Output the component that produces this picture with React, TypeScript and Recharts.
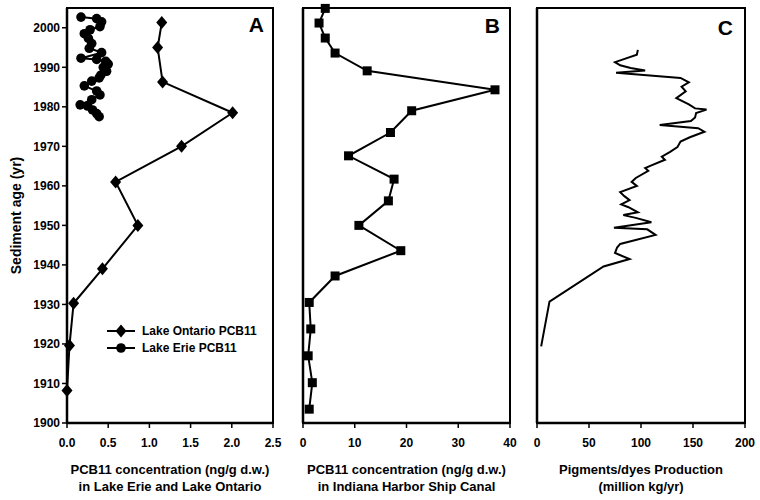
import React from 'react';
import { ScatterChart, Scatter, XAxis, YAxis, ReferenceArea, Legend } from 'recharts';

const FONT = '"Liberation Sans", Arial, Helvetica, sans-serif';

const yearTicks = [1900, 1910, 1920, 1930, 1940, 1950, 1960, 1970, 1980, 1990, 2000];
const ticksA = [0, 0.5, 1, 1.5, 2, 2.5];
const ticksB = [0, 10, 20, 30, 40];
const ticksC = [0, 50, 100, 150, 200];

// Panel A - Lake Ontario PCB11 (ng/g d.w.)
const ontarioYear = [2001.3, 1995.0, 1986.3, 1978.5, 1970.0, 1961.0, 1950.0, 1939.0, 1930.3, 1919.6, 1908.2];
const ontarioConc = [1.15, 1.1, 1.16, 2.01, 1.39, 0.59, 0.86, 0.43, 0.08, 0.03, 0.0];

// Panel A - Lake Erie PCB11
const erieYear = [2002.7, 2002.3, 2001.5, 2000.3, 1999.5, 1998.5, 1997.3, 1996.0, 1994.8, 1993.7, 1992.3, 1992.0, 1991.5, 1990.8, 1990.0, 1989.0, 1988.0, 1987.3, 1986.5, 1985.3, 1984.0, 1983.0, 1981.8, 1980.5, 1980.2, 1979.2, 1978.3, 1977.5];
const erieConc = [0.17, 0.36, 0.42, 0.4, 0.28, 0.21, 0.26, 0.3, 0.27, 0.42, 0.17, 0.36, 0.47, 0.5, 0.44, 0.48, 0.41, 0.39, 0.3, 0.21, 0.36, 0.4, 0.3, 0.16, 0.25, 0.31, 0.36, 0.39];

// Panel B - Indiana Harbor Ship Canal
const canalYear = [2004.9, 2001.2, 1997.4, 1993.6, 1989.1, 1984.3, 1979.0, 1973.5, 1967.6, 1961.7, 1956.2, 1950.0, 1943.6, 1937.2, 1930.5, 1923.8, 1917.0, 1910.2, 1903.5];
const canalConc = [4.3, 3.1, 4.3, 6.2, 12.4, 37.1, 21.0, 16.9, 8.8, 17.6, 16.5, 10.8, 18.9, 6.2, 1.2, 1.5, 1.0, 1.8, 1.2];

// Panel C - pigments/dyes production (million kg/yr)
const dyeYear = [1994.4, 1993.2, 1991.3, 1990.5, 1989.8, 1989.2, 1988.6, 1987.3, 1986.2, 1985.1, 1983.9, 1982.2, 1980.6, 1979.6, 1979.3, 1978.4, 1977.3, 1976.4, 1975.4, 1974.6, 1973.7, 1972.3, 1971.2, 1969.8, 1968.6, 1967.4, 1966.6, 1965.2, 1964.5, 1963.8, 1962.0, 1961.0, 1960.0, 1958.4, 1957.4, 1956.4, 1955.3, 1954.6, 1953.3, 1952.6, 1951.9, 1950.8, 1949.4, 1949.0, 1947.6, 1945.3, 1944.4, 1943.0, 1941.5, 1939.6, 1930.7, 1919.4];
const dyeProd = [97, 96, 75, 80, 90, 104, 76, 138, 146, 139, 143, 134, 146, 152, 163, 153, 152, 148, 118, 155, 161, 147, 138, 135, 128, 120, 123, 110, 104, 107, 95, 91, 96, 80, 84, 89, 81, 88, 97, 83, 95, 110, 74, 106, 114, 80, 77, 75, 89, 64, 12, 4];

const legendOrder = ['Lake Ontario PCB11', 'Lake Erie PCB11'];

const zip = (ys: number[], xs: number[]) => ys.map((y, i) => ({ y, x: xs[i] }));

const ontario = zip(ontarioYear, ontarioConc);
const erie = zip(erieYear, erieConc);
const canal = zip(canalYear, canalConc);
const dyes = zip(dyeYear, dyeProd);

const Marker = ({ cx, cy, kind }: any) => {
  if (cx == null || cy == null) return <g />;
  if (kind === 'diamond')
    return <path d={`M${cx},${cy - 6.5}L${cx + 5.5},${cy}L${cx},${cy + 6.5}L${cx - 5.5},${cy}Z`} fill="#000" />;
  if (kind === 'circle') return <circle cx={cx} cy={cy} r={4.8} fill="#000" />;
  if (kind === 'square') return <rect x={cx - 4.5} y={cy - 4.5} width={9} height={9} fill="#000" />;
  return <g />;
};

const LegendContent = ({ payload }: any) => {
  const items = [...(payload || [])].sort(
    (a: any, b: any) => legendOrder.indexOf(a.value) - legendOrder.indexOf(b.value)
  );
  return (
    <div style={{ fontFamily: FONT, fontSize: 12, fontWeight: 'bold', color: '#000' }}>
      {items.map((entry: any) => (
        <div key={entry.value} style={{ display: 'flex', alignItems: 'center', height: 17.5 }}>
          <svg width={32} height={14}>
            <line x1={2} x2={30} y1={7} y2={7} stroke="#000" strokeWidth={2} />
            <Marker cx={16} cy={7} kind={entry.type} />
          </svg>
          <span style={{ marginLeft: 5 }}>{entry.value}</span>
        </div>
      ))}
    </div>
  );
};

const tickStyle = { fill: '#000', fontSize: 12, fontWeight: 'bold', fontFamily: FONT };
const axisLine = { stroke: '#000', strokeWidth: 2.5 };
const tickLine = { stroke: '#000', strokeWidth: 1.5 };
const letterStyle = { fontSize: 21, fontWeight: 'bold', fill: '#000', fontFamily: FONT };
const lineStyle = { stroke: '#000', strokeWidth: 2 };

const W = 760;
const H = 453;
const chartBox: React.CSSProperties = { position: 'absolute', left: 0, top: 0 };

const titleStyle = (left: number, width: number): React.CSSProperties => ({
  position: 'absolute',
  left,
  width,
  top: 461,
  textAlign: 'center',
  fontFamily: FONT,
  fontSize: 13,
  fontWeight: 'bold',
  lineHeight: '17px',
  color: '#000',
  whiteSpace: 'nowrap',
});

export default function App() {
  return (
    <div style={{ position: 'absolute', left: 0, top: 0, width: 760, height: 500, background: '#fff', overflow: 'hidden' }}>
      {/* Panel A */}
      <div style={chartBox}>
        <ScatterChart width={W} height={H} margin={{ top: 8, right: 487, bottom: 0, left: 10 }}>
          <XAxis type="number" dataKey="x" domain={[0, 2.5]} ticks={ticksA} tickFormatter={(v: number) => v.toFixed(1)}
            height={30} tick={tickStyle} axisLine={axisLine} tickLine={tickLine} tickSize={5} tickMargin={10} />
          <YAxis type="number" dataKey="y" domain={[1900, 2005]} ticks={yearTicks} width={57}
            tick={tickStyle} axisLine={axisLine} tickLine={tickLine} tickSize={5} tickMargin={2}
            label={{ value: 'Sediment age (yr)', angle: -90, position: 'insideLeft', offset: 6,
              style: { textAnchor: 'middle', fontSize: 14, fontWeight: 'bold', fill: '#000', fontFamily: FONT } }} />
          <ReferenceArea x1={0} x2={2.5} y1={1900} y2={2005} fill="none" stroke="#000" strokeWidth={2}
            label={{ value: 'A', position: 'insideTopRight', offset: 9, ...letterStyle }} />
          <Scatter name="Lake Ontario PCB11" data={ontario} legendType="diamond" line={lineStyle}
            shape={(p: any) => <Marker {...p} kind="diamond" />} isAnimationActive={false} />
          <Scatter name="Lake Erie PCB11" data={erie} legendType="circle" line={lineStyle}
            shape={(p: any) => <Marker {...p} kind="circle" />} isAnimationActive={false} />
          <Legend layout="vertical" align="center" verticalAlign="middle" content={<LegendContent />}
            wrapperStyle={{ position: 'absolute', left: 105, top: 322, width: 'auto', bottom: 'auto' }} />
        </ScatterChart>
      </div>

      {/* Panel B */}
      <div style={chartBox}>
        <ScatterChart width={W} height={H} margin={{ top: 8, right: 250, bottom: 0, left: 293 }}>
          <XAxis type="number" dataKey="x" domain={[0, 40]} ticks={ticksB}
            height={30} tick={tickStyle} axisLine={axisLine} tickLine={tickLine} tickSize={5} tickMargin={10} />
          <YAxis type="number" dataKey="y" domain={[1900, 2005]} ticks={yearTicks} width={10}
            tick={false} axisLine={axisLine} tickLine={tickLine} tickSize={5} />
          <ReferenceArea x1={0} x2={40} y1={1900} y2={2005} fill="none" stroke="#000" strokeWidth={2}
            label={{ value: 'B', position: 'insideTopRight', offset: 10, ...letterStyle }} />
          <Scatter name="Indiana Harbor PCB11" data={canal} line={lineStyle}
            shape={(p: any) => <Marker {...p} kind="square" />} isAnimationActive={false} />
        </ScatterChart>
      </div>

      {/* Panel C */}
      <div style={chartBox}>
        <ScatterChart width={W} height={H} margin={{ top: 8, right: 15, bottom: 0, left: 527 }}>
          <XAxis type="number" dataKey="x" domain={[0, 200]} ticks={ticksC}
            height={30} tick={tickStyle} axisLine={axisLine} tickLine={tickLine} tickSize={5} tickMargin={10} />
          <YAxis type="number" dataKey="y" domain={[1900, 2005]} ticks={yearTicks} width={10}
            tick={false} axisLine={axisLine} tickLine={tickLine} tickSize={5} />
          <ReferenceArea x1={0} x2={200} y1={1900} y2={2005} fill="none" stroke="#000" strokeWidth={2}
            label={{ value: 'C', position: 'insideTopRight', offset: 12, ...letterStyle }} />
          <Scatter name="Pigments/dyes" data={dyes} line={lineStyle}
            shape={(p: any) => <Marker {...p} kind="none" />} isAnimationActive={false} />
        </ScatterChart>
      </div>

      <div style={titleStyle(67, 206)}>
        PCB11 concentration (ng/g d.w.)<br />in Lake Erie and Lake Ontario
      </div>
      <div style={titleStyle(303, 207)}>
        PCB11 concentration (ng/g d.w.)<br />in Indiana Harbor Ship Canal
      </div>
      <div style={titleStyle(537, 208)}>
        Pigments/dyes Production<br />(million kg/yr)
      </div>
    </div>
  );
}
